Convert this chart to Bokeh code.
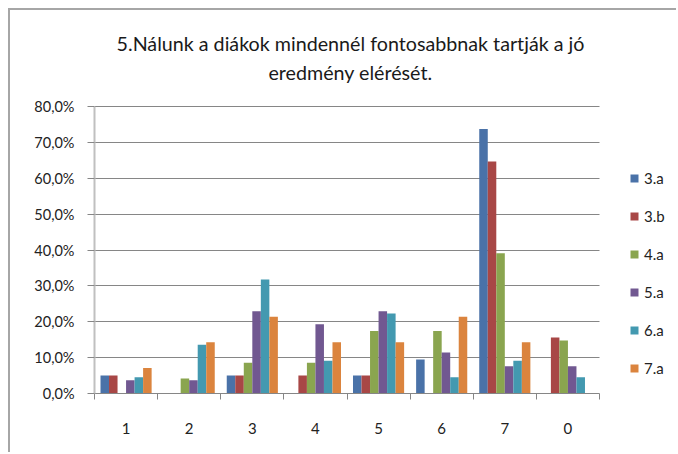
from bokeh.plotting import figure
from bokeh.models import (Range1d, FixedTicker, Legend, LegendItem, Label,
                          ColumnDataSource)
from bokeh.transform import dodge
from bokeh.embed import file_html
from bokeh.resources import INLINE

title_line1 = "5.Nálunk a diákok mindennél fontosabbnak tartják a jó"
title_line2 = "eredmény elérését."

categories = ["1", "2", "3", "4", "5", "6", "7", "0"]
series = ["3.a", "3.b", "4.a", "5.a", "6.a", "7.a"]

s3a = [5.0, 0.0, 5.0, 0.0, 5.0, 9.5, 73.7, 0.0]
s3b = [5.0, 0.0, 5.0, 5.0, 5.0, 0.0, 64.7, 15.6]
s4a = [0.0, 4.2, 8.6, 8.6, 17.4, 17.4, 39.1, 14.8]
s5a = [3.7, 3.7, 22.9, 19.3, 22.9, 11.4, 7.6, 7.6]
s6a = [4.5, 13.6, 31.8, 9.1, 22.3, 4.5, 9.1, 4.5]
s7a = [7.1, 14.3, 21.4, 14.3, 14.3, 21.4, 14.3, 0.0]
values = [s3a, s3b, s4a, s5a, s6a, s7a]

y_ticks = [0, 10, 20, 30, 40, 50, 60, 70, 80]
y_tick_labels = ["0,0%", "10,0%", "20,0%", "30,0%", "40,0%", "50,0%",
                 "60,0%", "70,0%", "80,0%"]

colors = ["#4a72a8", "#a84746", "#8aa54f", "#715891", "#4399b0", "#db843e"]

FONT = "Lato"

n = len(categories)
y_max = y_ticks[-1]
data = {"x": [i + 0.5 for i in range(n)], "cat": categories}
for name, vals in zip(series, values):
    data[name] = vals
source = ColumnDataSource(data)

# layout (pixels): the frame spans the whole canvas right of the y axis and
# above the x axis; the title and the legend sit inside it, beside the bars
W, H = 668, 444
border_left, border_bottom = 84, 61
bars_px = 505            # width of the category area
bars_top = 96            # distance of the top gridline from the canvas top
frame_w = W - border_left
frame_h = H - border_bottom
px_x = bars_px / n
px_y = (frame_h - bars_top) / y_max
x_end = frame_w / px_x
y_end = frame_h / px_y

p = figure(width=W, height=H, x_range=Range1d(0, x_end), y_range=Range1d(0, y_end),
           output_backend="svg", toolbar_location=None, title=None,
           min_border_left=border_left, min_border_right=0, min_border_top=0,
           min_border_bottom=border_bottom)
p.outline_line_color = None
p.styles = {"margin-left": "10px", "margin-top": "10px",
            "box-shadow": "-2px -2px 0 0 #a6a6a6"}

bw = 0.135
renderers = []
for j, (name, col) in enumerate(zip(series, colors)):
    r = p.vbar(x=dodge("x", (j - 2.5) * bw, range=p.x_range), top=name, width=bw,
               source=source, fill_color=col, line_color=None)
    renderers.append(r)

# y axis
p.yaxis.ticker = FixedTicker(ticks=y_ticks)
p.yaxis.bounds = (0, y_max)
p.yaxis.major_label_overrides = {t: l for t, l in zip(y_ticks, y_tick_labels)}
p.yaxis.major_label_text_font = FONT
p.yaxis.major_label_text_font_size = "14.5px"
p.yaxis.major_label_text_color = "#222222"
p.yaxis.axis_line_color = "#c0c0c0"
p.yaxis.axis_line_width = 2
p.yaxis.major_tick_line_color = "#868686"
p.yaxis.major_tick_in = 0
p.yaxis.major_tick_out = 7
p.yaxis.minor_tick_line_color = None
p.yaxis.major_label_standoff = 13

# x axis
p.xaxis.ticker = FixedTicker(ticks=[i + 0.5 for i in range(n)],
                             minor_ticks=list(range(n + 1)))
p.xaxis.bounds = (0, n)
p.xaxis.major_label_overrides = {i + 0.5: c for i, c in enumerate(categories)}
p.xaxis.major_label_text_font = FONT
p.xaxis.major_label_text_font_size = "15px"
p.xaxis.major_label_text_color = "#222222"
p.xaxis.axis_line_color = "#868686"
p.xaxis.major_tick_line_color = None
p.xaxis.major_tick_in = 0
p.xaxis.major_tick_out = 0
p.xaxis.minor_tick_line_color = "#868686"
p.xaxis.minor_tick_in = 0
p.xaxis.minor_tick_out = 6
p.xaxis.major_label_standoff = 23

p.xgrid.grid_line_color = None
p.ygrid.grid_line_color = "#868686"
p.ygrid.grid_line_width = 1
p.ygrid.cross_bounds = (0, n)

# two-line title, centred over the chart area
title_cx = 256 / px_x                 # 256 px right of the y axis
line1_y = (frame_h - 33) / px_y       # line centres, px from the canvas top
line2_y = (frame_h - 62) / px_y
for txt, yy in ((title_line1, line1_y), (title_line2, line2_y)):
    p.add_layout(Label(x=title_cx, y=yy, text=txt, text_align="center",
                       text_baseline="middle", text_font=FONT,
                       text_font_size="19.7px", text_color="#1a1a1a"))

legend = Legend(items=[LegendItem(label=s, renderers=[r]) for s, r in zip(series, renderers)],
                location=(535, 15), orientation="vertical",
                glyph_width=10, glyph_height=10, label_height=20, spacing=18,
                label_standoff=5, padding=0, margin=0,
                label_text_font=FONT, label_text_font_size="15px",
                label_text_color="#222222",
                border_line_color=None, background_fill_alpha=0)
p.add_layout(legend, "center")

open("out.html", "w").write(file_html(p, INLINE))
